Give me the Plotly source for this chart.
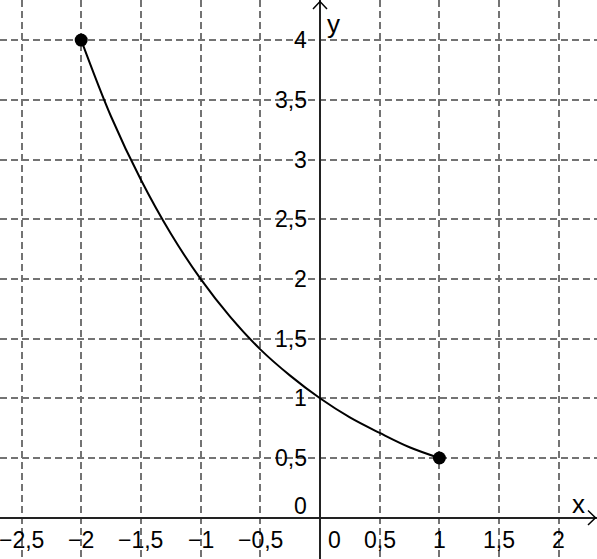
import plotly.graph_objects as go

# Curve samples
curve_x = [-2, -1.75, -1.5, -1.25, -1, -0.75, -0.5, -0.25, 0, 0.25, 0.5, 0.75, 1]
curve_y = [4, 3.36, 2.83, 2.38, 2, 1.68, 1.41, 1.19, 1, 0.84, 0.71, 0.59, 0.5]

# Endpoints
end_x = [-2, 1]
end_y = [4, 0.5]

# Tick values and labels
x_tick_vals = [-2.5, -2, -1.5, -1, -0.5, 0, 0.5, 1, 1.5, 2]
x_tick_text = ["\u22122,5", "\u22122", "\u22121,5", "\u22121", "\u22120,5", "0", "0,5", "1", "1,5", "2"]
y_tick_vals = [0, 0.5, 1, 1.5, 2, 2.5, 3, 3.5, 4]
y_tick_text = ["0", "0,5", "1", "1,5", "2", "2,5", "3", "3,5", "4"]

W, H = 597, 559
unit = 119.4
x0_px, y0_px = 320, 517.7
x_range = [-x0_px / unit, (W - x0_px) / unit]
y_range = [-(H - y0_px) / unit, y0_px / unit]

FONT = "Liberation Sans, Arial, sans-serif"
TICK_SIZE = 23

fig = go.Figure()
fig.add_trace(go.Scatter(x=curve_x, y=curve_y, mode="lines",
                         line=dict(color="black", width=2, shape="spline"),
                         hoverinfo="skip", showlegend=False))
fig.add_trace(go.Scatter(x=end_x, y=end_y, mode="markers",
                         marker=dict(color="black", size=13),
                         showlegend=False))

annotations = []
for v, t in zip(x_tick_vals, x_tick_text):
    annotations.append(dict(x=v, y=0, xref="x", yref="y", text=t, showarrow=False,
                            xanchor="center", yanchor="middle",
                            xshift=14 if v == 0 else 0, yshift=-22,
                            font=dict(family=FONT, size=TICK_SIZE, color="black")))
for v, t in zip(y_tick_vals, y_tick_text):
    annotations.append(dict(x=0, y=v, xref="x", yref="y", text=t, showarrow=False,
                            xanchor="right", yanchor="middle",
                            xshift=-11, yshift=12 if v == 0 else 0,
                            font=dict(family=FONT, size=TICK_SIZE, color="black")))
annotations.append(dict(x=578 / W, y=1 - 504 / H, xref="paper", yref="paper", text="x",
                        showarrow=False, xanchor="center", yanchor="middle",
                        font=dict(family=FONT, size=26, color="black")))
annotations.append(dict(x=333 / W, y=1 - 24 / H, xref="paper", yref="paper", text="y",
                        showarrow=False, xanchor="center", yanchor="middle",
                        font=dict(family=FONT, size=26, color="black")))


def px(x, y):
    return f"{x / W:.5f},{1 - y / H:.5f}"


shapes = [
    dict(type="path", xref="paper", yref="paper",
         path=f"M{px(313, 9)} L{px(320, 1.5)} L{px(327, 9)}",
         line=dict(color="black", width=1.5)),
    dict(type="path", xref="paper", yref="paper",
         path=f"M{px(588, 510.5)} L{px(595.5, 517.7)} L{px(588, 525)}",
         line=dict(color="black", width=1.5)),
]

axis_common = dict(showgrid=True, gridcolor="#737373", gridwidth=2,
                   griddash="7px,4px", dtick=0.5, tick0=0,
                   zeroline=True, zerolinecolor="#222222", zerolinewidth=1.5,
                   showticklabels=False, ticks="", showline=False, fixedrange=True)

fig.update_layout(
    width=W, height=H,
    margin=dict(l=0, r=0, t=0, b=0),
    paper_bgcolor="white", plot_bgcolor="white",
    xaxis=dict(range=x_range, **axis_common),
    yaxis=dict(range=y_range, **axis_common),
    annotations=annotations,
    shapes=shapes,
    showlegend=False,
)

fig.write_html("out.html", config={"displayModeBar": False},
               post_script="document.body.style.margin='0';document.body.style.overflow='hidden';")
